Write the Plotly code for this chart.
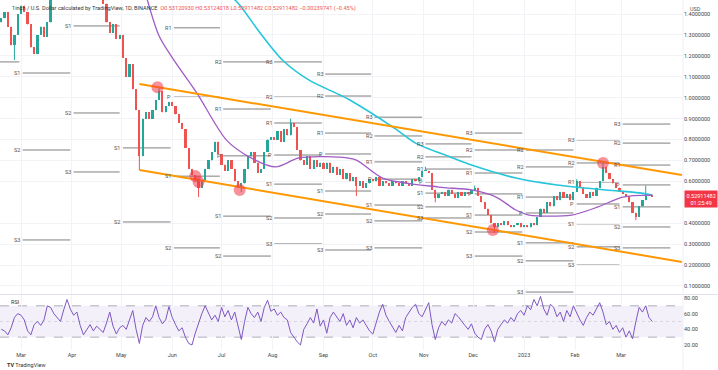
import pandas as pd
import plotly.graph_objects as go

# ---------------- data ----------------
start_date = "2022-02-17"          # first candle, one candle per 2 days
first_open = 1.36
close = [
    # Feb 2022
    1.38, 1.41, 1.34, 1.25, 1.30, 1.40,
    # Mar
    1.44, 1.41, 1.35, 1.24, 1.21, 1.30, 1.34, 1.29, 1.36, 1.52, 1.60, 1.66, 1.70, 1.68, 1.64, 1.62,
    # Apr
    1.60, 1.56, 1.58, 1.52, 1.55, 1.50, 1.53, 1.52, 1.50, 1.45, 1.36, 1.31, 1.35, 1.28, 1.30,
    # May
    1.19, 1.10, 1.16, 1.04, 0.94, 0.72, 0.90, 0.93, 0.90, 0.94, 0.99, 1.03, 0.93, 0.96, 0.98,
    # Jun
    0.96, 0.92, 0.88, 0.85, 0.76, 0.66, 0.63, 0.61, 0.57, 0.60, 0.66, 0.70, 0.74, 0.79, 0.73,
    # Jul
    0.68, 0.65, 0.70, 0.66, 0.60, 0.57, 0.59, 0.66, 0.72, 0.74, 0.69, 0.64, 0.66, 0.74, 0.80, 0.81,
    # Aug
    0.80, 0.84, 0.79, 0.85, 0.82, 0.88, 0.86, 0.75, 0.70, 0.68, 0.72, 0.66, 0.70, 0.67, 0.69,
    # Sep
    0.66, 0.69, 0.64, 0.67, 0.63, 0.66, 0.61, 0.64, 0.60, 0.62, 0.58, 0.60, 0.57, 0.59, 0.61,
    # Oct
    0.60, 0.62, 0.58, 0.60, 0.59, 0.58, 0.60, 0.59, 0.58, 0.60, 0.59, 0.58, 0.61, 0.60, 0.62, 0.65,
    # Nov
    0.65, 0.64, 0.56, 0.52, 0.54, 0.55, 0.53, 0.56, 0.54, 0.52, 0.55, 0.53, 0.55, 0.54, 0.56,
    # Dec
    0.57, 0.53, 0.50, 0.47, 0.44, 0.40, 0.38, 0.40, 0.39, 0.41, 0.39, 0.38, 0.39, 0.40, 0.38,
    # Jan 2023
    0.39, 0.38, 0.40, 0.39, 0.43, 0.47, 0.45, 0.50, 0.48, 0.53, 0.51, 0.55, 0.52, 0.54, 0.51, 0.55,
    # Feb
    0.60, 0.57, 0.54, 0.52, 0.55, 0.53, 0.57, 0.60, 0.67, 0.64, 0.61, 0.59, 0.57, 0.55,
    # Mar
    0.54, 0.53, 0.50, 0.45, 0.43, 0.48, 0.51, 0.54, 0.53, 0.529,
]
wick_high_dates = ["2022-05-24", "2022-08-12", "2022-11-02", "2022-12-02", "2023-02-02", "2023-02-18", "2023-03-16"]
wick_high_vals = [1.05, 0.90, 0.67, 0.58, 0.61, 0.69, 0.58]
wick_low_dates = ["2022-02-25", "2022-05-12", "2022-06-17", "2022-07-13", "2022-09-21", "2022-11-08", "2022-12-14", "2023-03-10"]
wick_low_vals = [1.18, 0.654, 0.525, 0.55, 0.53, 0.50, 0.355, 0.415]

rsi = [
    40, 38, 33, 42, 55, 60, 58, 52, 38, 33,
    46, 50, 45, 52, 70, 68, 60, 55, 50, 65,
    78, 66, 58, 62, 45, 33, 40, 46, 38, 44,
    40, 36, 48, 62, 44, 34, 42, 45, 40, 52,
    64, 40, 22, 45, 55, 50, 56, 70, 55, 47,
    52, 69, 55, 46, 38, 42, 30, 22, 20, 35,
    48, 60, 70, 60, 52, 58, 50, 68, 56, 64,
    52, 62, 46, 27, 50, 68, 60, 55, 62, 50,
    68, 77, 63, 66, 58, 62, 55, 52, 36, 30,
    24, 20, 40, 47, 55, 48, 66, 44, 52, 35,
    55, 62, 56, 50, 60, 45, 52, 42, 55, 48,
    52, 45, 38, 34, 48, 62, 72, 58, 50, 42,
    36, 45, 38, 55, 62, 68, 72, 60, 56, 65,
    74, 46, 27, 42, 50, 45, 52, 48, 60, 56,
    50, 45, 40, 47, 35, 30, 27, 40, 46, 38,
    24, 40, 46, 52, 48, 55, 50, 60, 64, 58,
    70, 65, 78, 70, 82, 66, 58, 72, 68, 56,
    62, 50, 64, 56, 70, 60, 52, 45, 55, 62,
    58, 66, 74, 62, 46, 50, 40, 45, 36, 42,
    30, 38, 28, 50, 68, 62, 70, 55, 50,
]

ma_slow_dates = ["2022-07-03", "2022-07-12", "2022-07-24", "2022-08-07", "2022-08-23", "2022-09-11",
                 "2022-09-17", "2022-10-15", "2022-10-27", "2022-11-17", "2022-11-30", "2022-12-27",
                 "2023-01-21", "2023-02-20", "2023-03-12", "2023-03-20"]
ma_slow = [1.515, 1.443, 1.314, 1.180, 1.085, 1.013, 0.989, 0.850, 0.783, 0.717, 0.678, 0.616,
           0.583, 0.559, 0.545, 0.535]

ma_fast_dates = ["2022-05-16", "2022-05-24", "2022-06-02", "2022-06-16", "2022-07-04", "2022-07-18",
                 "2022-08-03", "2022-08-17", "2022-09-11", "2022-09-21", "2022-10-07", "2022-11-10",
                 "2022-11-30", "2022-12-15", "2022-12-27", "2023-01-04", "2023-01-30", "2023-02-15",
                 "2023-03-02", "2023-03-20"]
ma_fast = [1.491, 1.295, 1.180, 1.022, 0.797, 0.716, 0.669, 0.712, 0.716, 0.702, 0.616, 0.573,
           0.559, 0.525, 0.463, 0.439, 0.439, 0.478, 0.525, 0.534]

channel_dates = ["2022-05-12", "2023-04-07"]
channel_upper = [1.065, 0.630]
channel_lower = [0.654, 0.215]

touch_dates = ["2022-05-23", "2022-06-15", "2022-06-17", "2022-07-12", "2022-12-13", "2023-02-18"]
touch_prices = [1.050, 0.626, 0.597, 0.559, 0.367, 0.688]

pivot_first_month = "2022-02-01"
pivot_R3 = [None, None, None, None, None, None, 1.171, 1.113, 0.907, 0.779, 0.831, 0.750, 0.798, 0.874]
pivot_R2 = [None, None, None, None, None, 1.171, 1.003, 1.008, 0.817, 0.717, 0.750, 0.669, 0.688, 0.783]
pivot_R1 = [None, None, None, None, 1.334, 0.946, 0.879, 0.831, 0.693, 0.659, 0.640, 0.525, 0.597, 0.678]
pivot_P = [None, None, None, None, 1.003, 0.722, 0.726, 0.731, 0.611, 0.597, 0.540, 0.449, 0.492, 0.583]
pivot_S1 = [1.171, 1.118, 1.343, 0.760, 0.625, 0.434, 0.587, 0.554, 0.487, 0.544, 0.439, 0.306, 0.397, 0.478]
pivot_S2 = [None, 0.750, 0.927, 0.406, 0.282, 0.243, 0.425, 0.444, 0.411, 0.478, 0.358, 0.220, 0.287, 0.382]
pivot_S3 = [None, 0.320, 0.645, None, None, None, 0.301, 0.272, 0.282, 0.425, 0.243, 0.071, 0.200, 0.282]

# 0.5 is hidden behind the last-price tag in the reference
price_ticks = [0.1, 0.2, 0.3, 0.4, 0.6, 0.7, 0.8, 0.9, 1.0, 1.1, 1.2, 1.3, 1.4]
rsi_ticks = [20, 40, 60, 80]
month_ticks = ["2022-03-01", "2022-04-01", "2022-05-01", "2022-06-01", "2022-07-01", "2022-08-01",
               "2022-09-01", "2022-10-01", "2022-11-01", "2022-12-01", "2023-01-01", "2023-02-01",
               "2023-03-01"]
month_labels = ["Mar", "Apr", "May", "Jun", "Jul", "Aug", "Sep", "Oct", "Nov", "Dec", "2023", "Feb", "Mar"]

last_price_text = "0.52911482"
header_name = "1inch / U.S. Dollar calculated by TradingView, 1D, BINANCE"
header_ohlc = "O0.53120930 H0.53124018 L0.52911482 C0.52911482 −0.00239741 (−0.45%)"

# ---------------- build ----------------
UP, DOWN = "#26a69a", "#ef5350"
dates = pd.date_range(start_date, periods=len(close), freq="2D")
opens = [first_open] + close[:-1]
hi_map = dict(zip(pd.to_datetime(wick_high_dates), wick_high_vals))
lo_map = dict(zip(pd.to_datetime(wick_low_dates), wick_low_vals))
highs = [max(o, c, hi_map.get(d, 0)) for d, o, c in zip(dates, opens, close)]
lows = [min(o, c, lo_map.get(d, 99)) for d, o, c in zip(dates, opens, close)]
body_base = [min(o, c) for o, c in zip(opens, close)]
body_h = [max(abs(c - o), 0.004) for o, c in zip(opens, close)]
colors = [UP if c >= o else DOWN for o, c in zip(opens, close)]

W, H = 718, 370
plot_right = 683 / W
main_bottom = 1 - 294 / H
rsi_top = 1 - 295 / H
rsi_bottom = 1 - 350 / H
FONT = "Roboto, Arial, sans-serif"
DAY_MS = 86400000

fig = go.Figure()

# candle wicks
for col in (UP, DOWN):
    wx, wy = [], []
    for d, lo, hi, c in zip(dates, lows, highs, colors):
        if c == col:
            wx += [d, d, None]
            wy += [lo, hi, None]
    fig.add_trace(go.Scatter(x=wx, y=wy, mode="lines", line=dict(color=col, width=1),
                             hoverinfo="skip", xaxis="x", yaxis="y"))
# candle bodies
fig.add_trace(go.Bar(x=dates, y=body_h, base=body_base, width=1.35 * DAY_MS,
                     marker=dict(color=colors, line=dict(width=0)), hoverinfo="skip",
                     xaxis="x", yaxis="y"))

fig.add_trace(go.Scatter(x=pd.to_datetime(ma_slow_dates), y=ma_slow, mode="lines",
                         line=dict(color="#26c6da", width=1.6, shape="spline", smoothing=0.8),
                         hoverinfo="skip", xaxis="x", yaxis="y"))
fig.add_trace(go.Scatter(x=pd.to_datetime(ma_fast_dates), y=ma_fast, mode="lines",
                         line=dict(color="#a05cc4", width=1.3, shape="spline", smoothing=0.8),
                         hoverinfo="skip", xaxis="x", yaxis="y"))
for arr in (channel_upper, channel_lower):
    fig.add_trace(go.Scatter(x=pd.to_datetime(channel_dates), y=arr, mode="lines",
                             line=dict(color="#ff9800", width=2), hoverinfo="skip",
                             xaxis="x", yaxis="y"))
fig.add_trace(go.Scatter(x=pd.to_datetime(touch_dates), y=touch_prices, mode="markers",
                         marker=dict(size=12, color="rgba(242,54,69,0.55)", line=dict(width=0)),
                         hoverinfo="skip", xaxis="x", yaxis="y"))

fig.add_trace(go.Scatter(x=dates, y=rsi, mode="lines", line=dict(color="#7e57c2", width=1),
                         hoverinfo="skip", xaxis="x2", yaxis="y2"))

shapes = []
annotations = []

# pivot segments
months = pd.date_range(pivot_first_month, periods=len(pivot_S1), freq="MS")
levels = [("R3", pivot_R3), ("R2", pivot_R2), ("R1", pivot_R1), ("P", pivot_P),
          ("S1", pivot_S1), ("S2", pivot_S2), ("S3", pivot_S3)]
for i, m in enumerate(months):
    end = m + pd.offsets.MonthBegin(1) - pd.Timedelta(days=1)
    for name, arr in levels:
        v = arr[i]
        if v is None:
            continue
        shapes.append(dict(type="line", xref="x", yref="y", x0=m + pd.Timedelta(days=1), x1=end,
                           y0=v, y1=v, line=dict(color="#7f7f7f", width=1), layer="below"))
        annotations.append(dict(x=m, y=v, xref="x", yref="y", text=name, showarrow=False,
                                xanchor="right", xshift=1, font=dict(size=5.5, color="#555", family=FONT)))

# RSI band and levels
shapes.append(dict(type="rect", xref="x2 domain", yref="y2", x0=0, x1=1, y0=30, y1=70,
                   fillcolor="rgba(126,87,194,0.09)", line=dict(width=0), layer="below"))
for lv, dash, col in ((70, "dash", "#9a9aa8"), (30, "dash", "#9a9aa8"), (50, "dot", "#d0d0d8")):
    shapes.append(dict(type="line", xref="x2 domain", yref="y2", x0=0, x1=1, y0=lv, y1=lv,
                       line=dict(color=col, width=0.8, dash=dash), layer="below"))
# pane separator and price scale border
shapes.append(dict(type="line", xref="paper", yref="paper", x0=0, x1=1, y0=1 - 294.5 / H, y1=1 - 294.5 / H,
                   line=dict(color="#e0e3eb", width=1)))
shapes.append(dict(type="line", xref="paper", yref="paper", x0=plot_right, x1=plot_right, y0=0, y1=1,
                   line=dict(color="#eef0f5", width=1)))

# texts
annotations.append(dict(xref="paper", yref="paper", x=10 / W, y=1 - 9 / H, xanchor="left", yanchor="middle",
                        showarrow=False, align="left",
                        text=header_name + "  <span style='color:#ef5350'>" + header_ohlc + "</span>",
                        font=dict(size=5.6, color="#333", family=FONT)))
annotations.append(dict(xref="paper", yref="paper", x=688 / W, y=1 - 9 / H, xanchor="left", yanchor="middle",
                        showarrow=False, text="USD", font=dict(size=5.5, color="#555", family=FONT)))
annotations.append(dict(xref="paper", yref="y", x=plot_right + 1 / W, y=close[-1], xanchor="left", yanchor="top",
                        yshift=6, showarrow=False, text=last_price_text + "<br>01:25:49",
                        bgcolor="#f23645", borderpad=1.5, align="center",
                        font=dict(size=5.5, color="white", family=FONT)))
annotations.append(dict(xref="paper", yref="paper", x=9 / W, y=1 - 302 / H, xanchor="left", yanchor="middle",
                        showarrow=False, text="RSI", font=dict(size=5.5, color="#333", family=FONT)))
annotations.append(dict(xref="paper", yref="paper", x=5 / W, y=1 - 365 / H, xanchor="left", yanchor="middle",
                        showarrow=False, text="<b>TV</b> TradingView", font=dict(size=5.5, color="#333", family=FONT)))

y_lo = (306.9 - 294) / 209.2
y_hi = 306.9 / 209.2
x_start = pd.Timestamp("2022-03-01") - pd.Timedelta(days=21 / 1.644)
x_end = pd.Timestamp("2022-03-01") + pd.Timedelta(days=(683 - 21) / 1.644)

fig.update_layout(
    width=W, height=H, margin=dict(l=0, r=0, t=0, b=0),
    paper_bgcolor="white", plot_bgcolor="white", showlegend=False, bargap=0,
    font=dict(family=FONT, size=6, color="#333"),
    shapes=shapes, annotations=annotations,
    xaxis=dict(domain=[0, plot_right], range=[x_start, x_end], type="date", anchor="y",
               showticklabels=False, tickvals=month_ticks,
               showgrid=True, gridcolor="#f2f3f7", zeroline=False, showline=False),
    yaxis=dict(domain=[main_bottom, 1], range=[y_lo, y_hi], side="right", anchor="x",
               tickvals=price_ticks, tickformat=".7f", ticks="", showgrid=True, gridcolor="#f2f3f7",
               zeroline=False, tickfont=dict(size=5.5, color="#444")),
    xaxis2=dict(domain=[0, plot_right], range=[x_start, x_end], type="date", anchor="y2",
                tickvals=month_ticks, ticktext=month_labels, ticks="", showgrid=True,
                gridcolor="#f2f3f7", zeroline=False, tickfont=dict(size=5.5, color="#444")),
    yaxis2=dict(domain=[rsi_bottom, rsi_top], range=[13.6, 83.8], side="right", anchor="x2",
                tickvals=rsi_ticks, tickformat=".2f", ticks="", showgrid=False, zeroline=False,
                tickfont=dict(size=5.5, color="#444")),
)

fig.write_html("out.html", config={"displayModeBar": False},
               post_script="document.body.style.margin='0';document.body.style.overflow='hidden';")
